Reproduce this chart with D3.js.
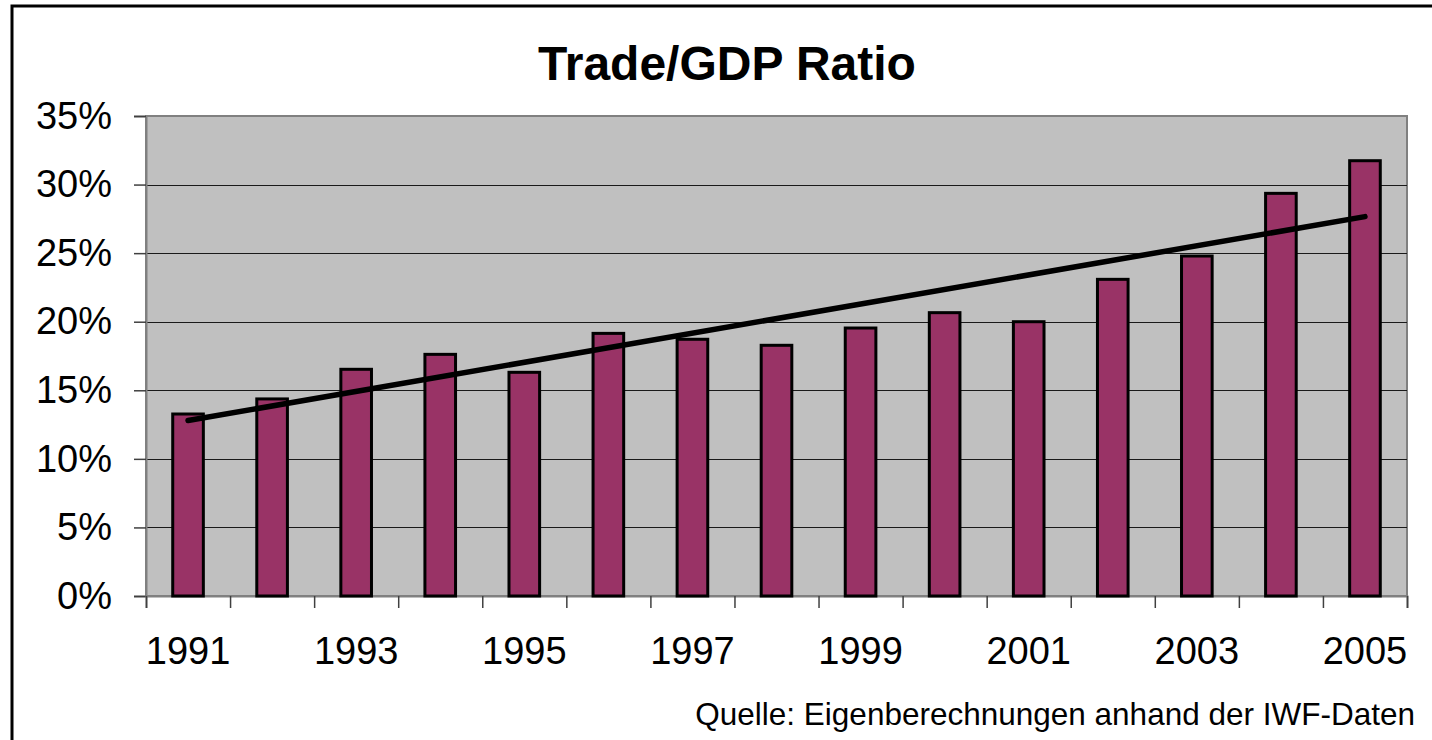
<!DOCTYPE html>
<html lang="de">
<head>
<meta charset="UTF-8">
<title>Trade/GDP Ratio</title>
<script src="https://cdn.jsdelivr.net/npm/d3@7"></script>
<style>
    body { margin: 0; background: #fff; }
    svg { display: block; font-family: "Liberation Sans", Arial, sans-serif; }
</style>
</head>
<body>
<div id="chart"></div>
<script>
    // values (percent of GDP)
    const years = [1991, 1992, 1993, 1994, 1995, 1996, 1997, 1998, 1999, 2000, 2001, 2002, 2003, 2004, 2005];
    const ratio = [13.27, 14.37, 16.53, 17.62, 16.31, 19.15, 18.72, 18.28, 19.54, 20.66, 20.0, 23.09, 24.79, 29.36, 31.74];
    const yTicks = [0, 5, 10, 15, 20, 25, 30, 35];
    const xLabels = [1991, 1993, 1995, 1997, 1999, 2001, 2003, 2005];

    const w = 1432, h = 740;
    const pL = 146, pR = 1407, pT = 116, pB = 596;

    const svg = d3.select("#chart").append("svg")
        .attr("width", w)
        .attr("height", h);

    // outer frame, cut off on the right and bottom
    svg.append("rect")
        .attr("x", 12).attr("y", 6)
        .attr("width", 1600).attr("height", 900)
        .attr("fill", "none")
        .attr("stroke", "#000")
        .attr("stroke-width", 3);

    svg.append("text")
        .attr("x", 727).attr("y", 80)
        .attr("text-anchor", "middle")
        .attr("font-size", 48)
        .attr("font-weight", "bold")
        .text("Trade/GDP Ratio");

    const x = d3.scaleBand()
        .domain(years)
        .range([pL, pR])
        .paddingInner(0.6)
        .paddingOuter(0.3);
    const xEdge = d3.scaleLinear()
        .domain([0, years.length])
        .range([pL, pR]);
    const y = d3.scaleLinear()
        .domain([0, 35])
        .range([pB, pT]);

    // plot area
    svg.append("rect")
        .attr("x", pL).attr("y", pT)
        .attr("width", pR - pL).attr("height", pB - pT)
        .attr("fill", "#c0c0c0")
        .attr("stroke", "#808080")
        .attr("stroke-width", 2);

    svg.append("g")
        .selectAll("line")
        .data(yTicks.filter(d => d > 0 && d < 35))
        .enter()
        .append("line")
        .attr("x1", pL).attr("x2", pR)
        .attr("y1", d => Math.round(y(d)) + 0.5)
        .attr("y2", d => Math.round(y(d)) + 0.5)
        .attr("stroke", "#1a1a1a")
        .attr("stroke-width", 1);

    const yAxis = svg.append("g")
        .attr("transform", "translate(" + pL + ",0)")
        .call(d3.axisLeft(y).tickValues(yTicks).tickSize(12).tickPadding(22).tickFormat(d => d + "%"));
    yAxis.select(".domain").attr("stroke", "#808080").attr("stroke-width", 2);
    yAxis.selectAll(".tick line").attr("stroke", "#404040").attr("stroke-width", 1.5);
    yAxis.selectAll("text").attr("font-size", 38).attr("fill", "#000");

    const xTicks = svg.append("g")
        .attr("transform", "translate(0," + pB + ")")
        .call(d3.axisBottom(xEdge).tickValues(d3.range(years.length + 1)).tickSize(12).tickFormat(""));
    xTicks.select(".domain").attr("stroke", "#808080").attr("stroke-width", 2);
    xTicks.selectAll(".tick line").attr("stroke", "#404040").attr("stroke-width", 1.5);

    const xAxis = svg.append("g")
        .attr("transform", "translate(0," + pB + ")")
        .call(d3.axisBottom(x).tickValues(xLabels).tickSize(0).tickPadding(41));
    xAxis.select(".domain").remove();
    xAxis.selectAll("text").attr("font-size", 38).attr("fill", "#000");

    svg.append("g")
        .selectAll("rect")
        .data(ratio)
        .enter()
        .append("rect")
        .attr("x", (d, i) => x(years[i]) + 1.5)
        .attr("y", d => y(d))
        .attr("width", x.bandwidth() - 3)
        .attr("height", d => pB - y(d))
        .attr("fill", "#993366")
        .attr("stroke", "#000")
        .attr("stroke-width", 3);

    // linear trend line (least squares over the bars)
    const n = ratio.length;
    const mx = d3.mean(d3.range(n));
    const my = d3.mean(ratio);
    const slope = d3.sum(ratio, (d, i) => (i - mx) * (d - my)) / d3.sum(d3.range(n), i => (i - mx) * (i - mx));
    const trend = [0, n - 1].map(i => [years[i], my + slope * (i - mx)]);

    svg.append("path")
        .datum(trend)
        .attr("fill", "none")
        .attr("stroke", "#000")
        .attr("stroke-width", 5.5)
        .attr("stroke-linecap", "round")
        .attr("d", d3.line()
            .x(d => x(d[0]) + x.bandwidth() / 2)
            .y(d => y(d[1])));

    svg.append("text")
        .attr("x", 1415).attr("y", 725)
        .attr("text-anchor", "end")
        .attr("font-size", 31.5)
        .text("Quelle: Eigenberechnungen anhand der IWF-Daten");
</script>
</body>
</html>
